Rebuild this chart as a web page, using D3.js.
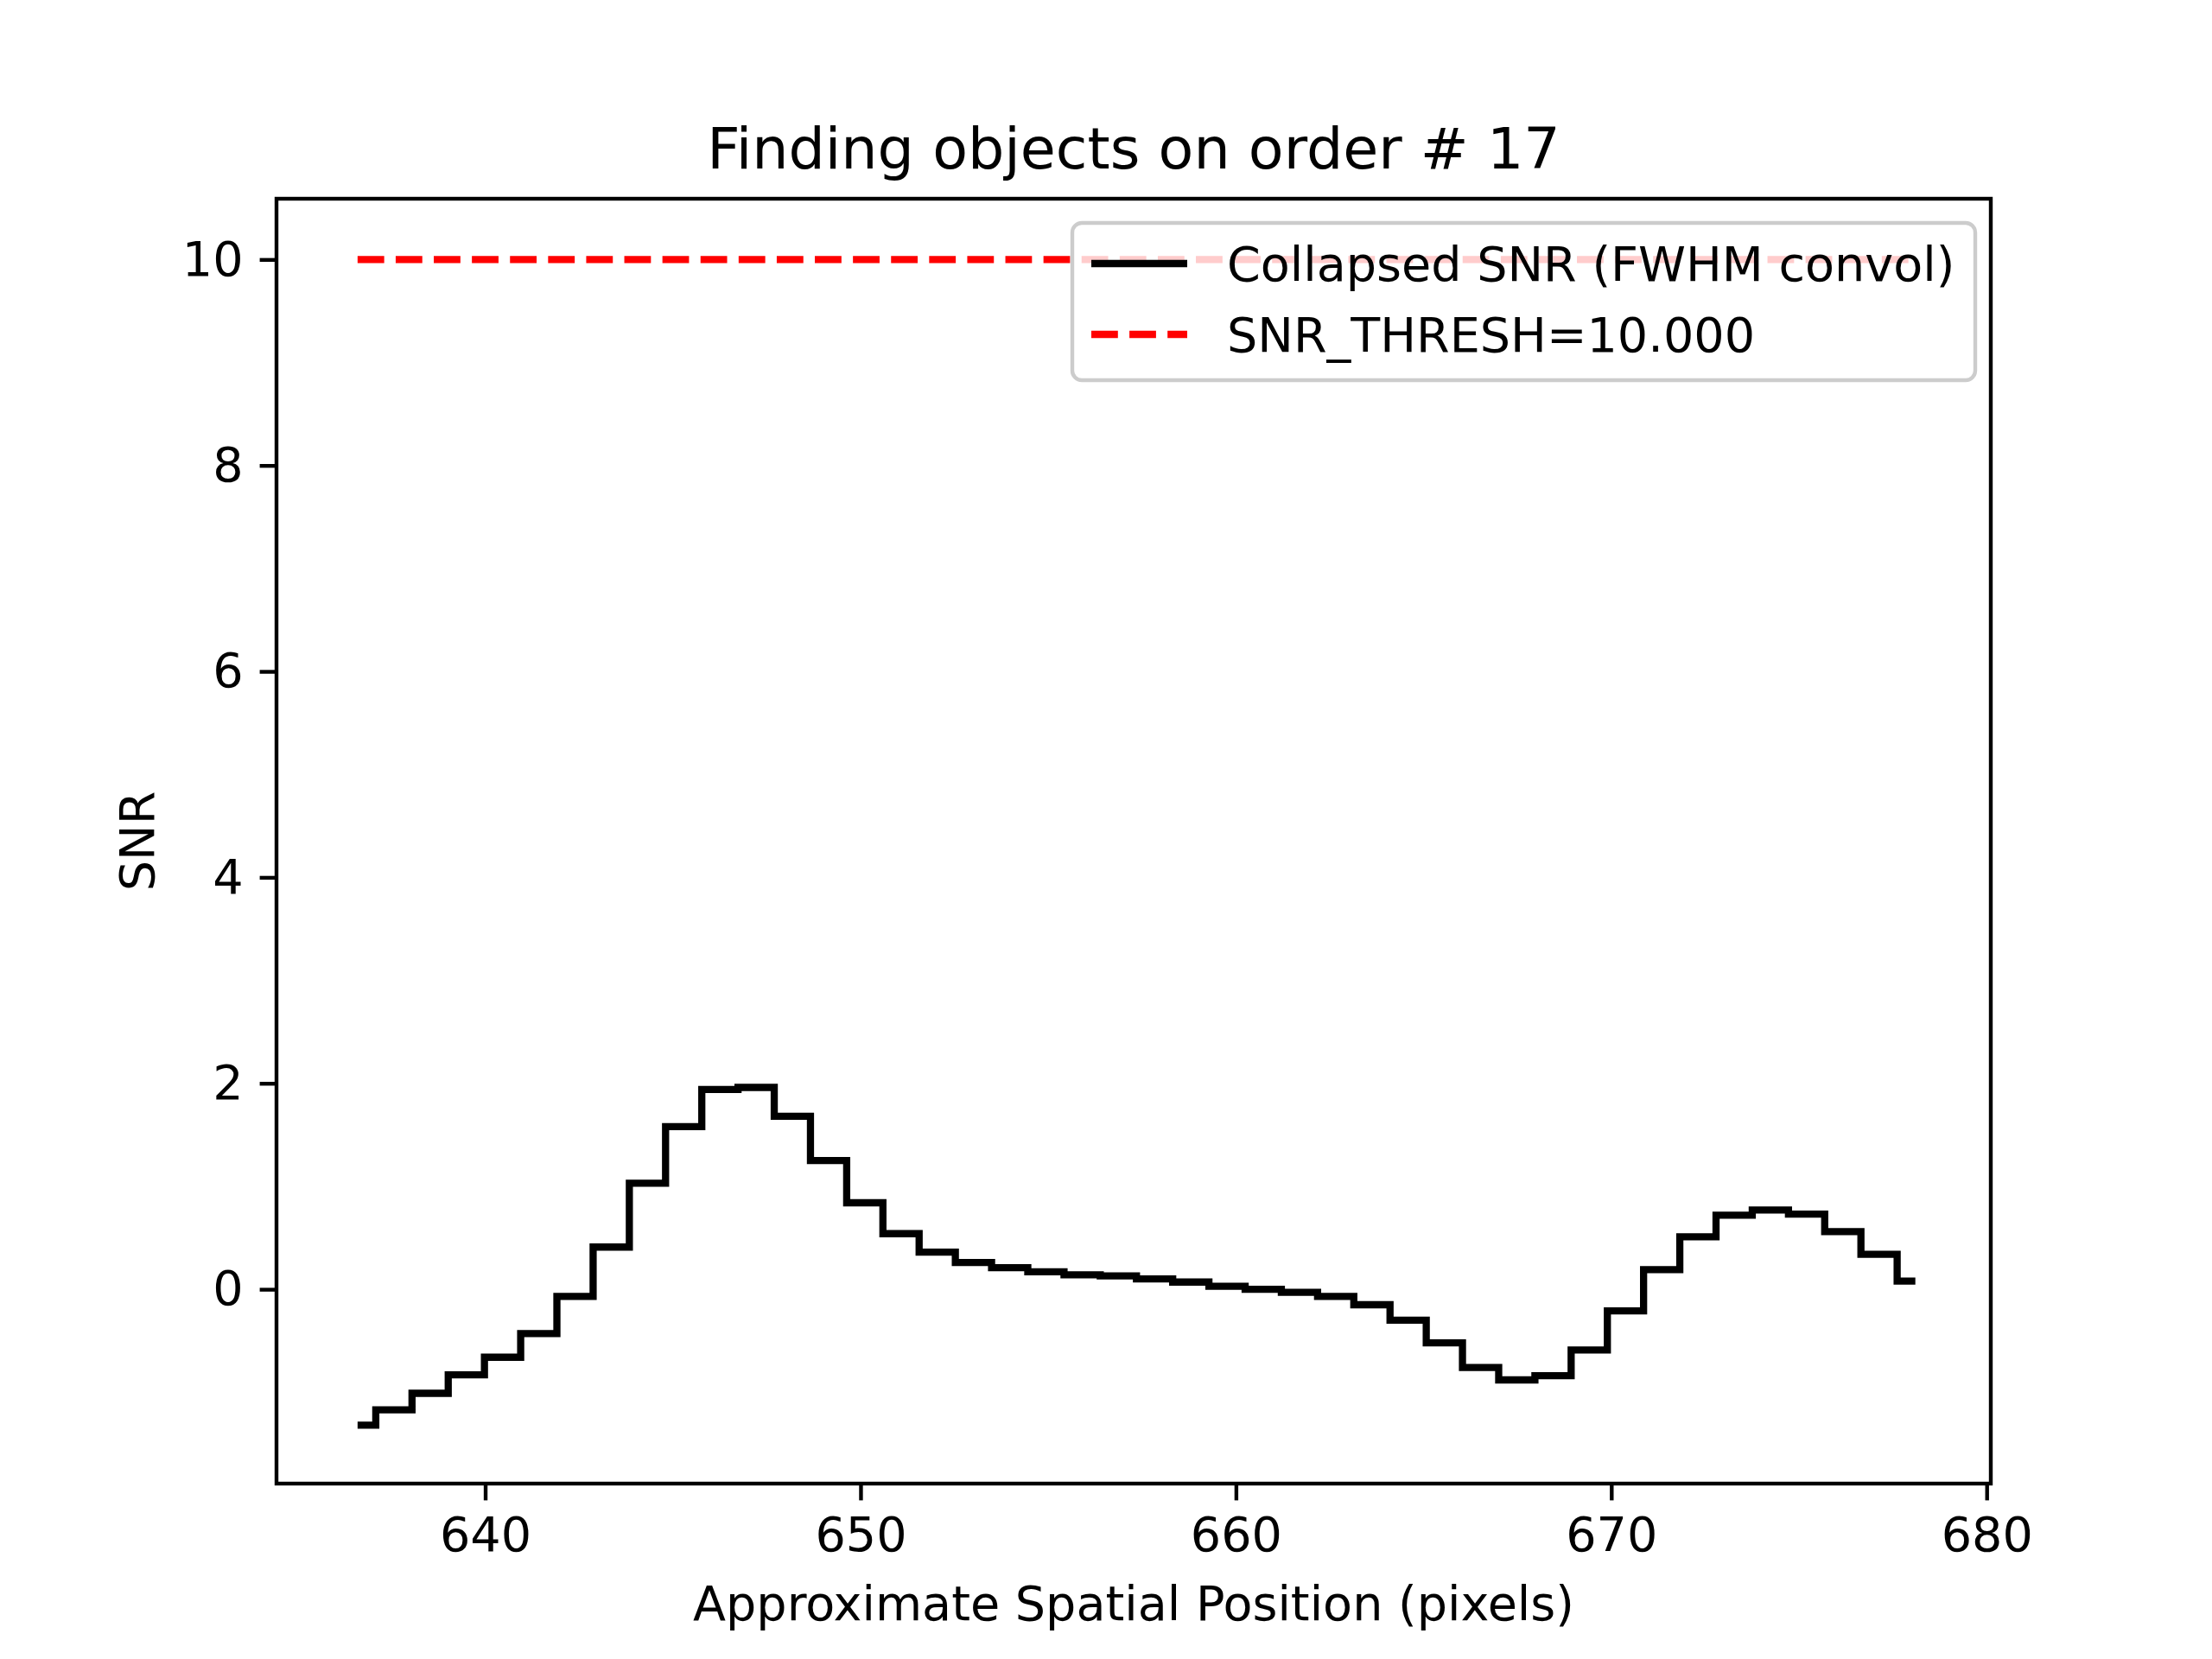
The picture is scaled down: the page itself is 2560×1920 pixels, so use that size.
<!DOCTYPE html>
<html><head><meta charset="utf-8">
<script src="https://cdn.jsdelivr.net/npm/d3@7"></script>
<style>body{margin:0;background:#fff}text{font-family:"DejaVu Sans",sans-serif}</style>
</head><body>
<script>
// data (steps-mid)
const xPos = [636.6,637.57,638.53,639.5,640.46,641.43,642.39,643.36,644.32,645.29,646.25,647.22,648.18,649.15,650.11,651.08,652.04,653.01,653.97,654.94,655.9,656.87,657.83,658.8,659.76,660.73,661.69,662.66,663.62,664.59,665.55,666.52,667.48,668.45,669.41,670.38,671.34,672.31,673.27,674.24,675.2,676.17,677.13,678.1]
const snr = [-1.32,-1.17,-1.01,-0.83,-0.66,-0.43,-0.07,0.41,1.03,1.58,1.94,1.96,1.68,1.25,0.84,0.54,0.36,0.26,0.21,0.17,0.14,0.13,0.10,0.07,0.03,0.0,-0.03,-0.07,-0.15,-0.30,-0.52,-0.76,-0.88,-0.84,-0.59,-0.21,0.19,0.51,0.72,0.77,0.73,0.56,0.34,0.08]
const thresh = 10
const xTicks = [640,650,660,670,680]
const yTicks = [0,2,4,6,8,10]

const W = 2560, H = 1920
const m = {l:320, r:2304, t:230, b:1717}
const fs = 55.6

const svg = d3.select("body").append("svg").attr("width", W).attr("height", H)

const x = d3.scaleLinear().domain([634.44, 680.11]).range([m.l, m.r])
const y = d3.scaleLinear().domain([-1.887, 10.59]).range([m.b, m.t])

// step line
svg.append("path")
  .datum(xPos.map((d,i) => [d, snr[i]]))
  .attr("fill","none").attr("stroke","#000").attr("stroke-width",8.3)
  .attr("d", d3.line().x(d => x(d[0])).y(d => y(d[1])).curve(d3.curveStep))

// threshold
svg.append("line")
  .attr("x1", x(xPos[0])).attr("x2", x(xPos[xPos.length-1]))
  .attr("y1", y(thresh)).attr("y2", y(thresh))
  .attr("stroke","red").attr("stroke-width",8.3).attr("stroke-dasharray","30.8,13.3")

// axes
const xAxis = svg.append("g").attr("transform", `translate(0,${m.b})`)
  .call(d3.axisBottom(x).tickValues(xTicks).tickSize(19.4).tickPadding(19))
const yAxis = svg.append("g").attr("transform", `translate(${m.l},0)`)
  .call(d3.axisLeft(y).tickValues(yTicks).tickSize(19.4).tickPadding(19))
for (const a of [xAxis, yAxis]) {
  a.select(".domain").remove()
  a.selectAll("line").attr("stroke-width",4.4)
  a.selectAll("text").attr("font-size",fs).attr("font-family","DejaVu Sans").attr("fill","#000")
}

// frame
svg.append("rect").attr("x",m.l).attr("y",m.t).attr("width",m.r-m.l).attr("height",m.b-m.t)
  .attr("fill","none").attr("stroke","#000").attr("stroke-width",4.4)

// legend
const lg = svg.append("g")
lg.append("rect").attr("x",1241).attr("y",258).attr("width",1045).attr("height",182).attr("rx",11)
  .attr("fill","white").attr("fill-opacity",0.8).attr("stroke","#ccc").attr("stroke-width",4.4)
const items = [["Collapsed SNR (FWHM convol)","#000",null],["SNR_THRESH=10.000","red","30.8,13.3"]]
items.forEach((it,i) => {
  const cy = 305 + i*82
  lg.append("line").attr("x1",1263).attr("x2",1374).attr("y1",cy).attr("y2",cy)
    .attr("stroke",it[1]).attr("stroke-width",8.3).attr("stroke-dasharray",it[2])
  lg.append("text").attr("x",1420).attr("y",cy+20).attr("font-size",fs).text(it[0])
})

// titles
svg.append("text").attr("x",(m.l+m.r)/2).attr("y",195).attr("text-anchor","middle")
  .attr("font-size",66.7).text("Finding objects on order # 17")
svg.append("text").attr("x",(m.l+m.r)/2).attr("y",1875).attr("text-anchor","middle")
  .attr("font-size",fs).text("Approximate Spatial Position (pixels)")
svg.append("text").attr("transform",`translate(178,${(m.t+m.b)/2}) rotate(-90)`).attr("text-anchor","middle")
  .attr("font-size",fs).text("SNR")
</script>
</body></html>
